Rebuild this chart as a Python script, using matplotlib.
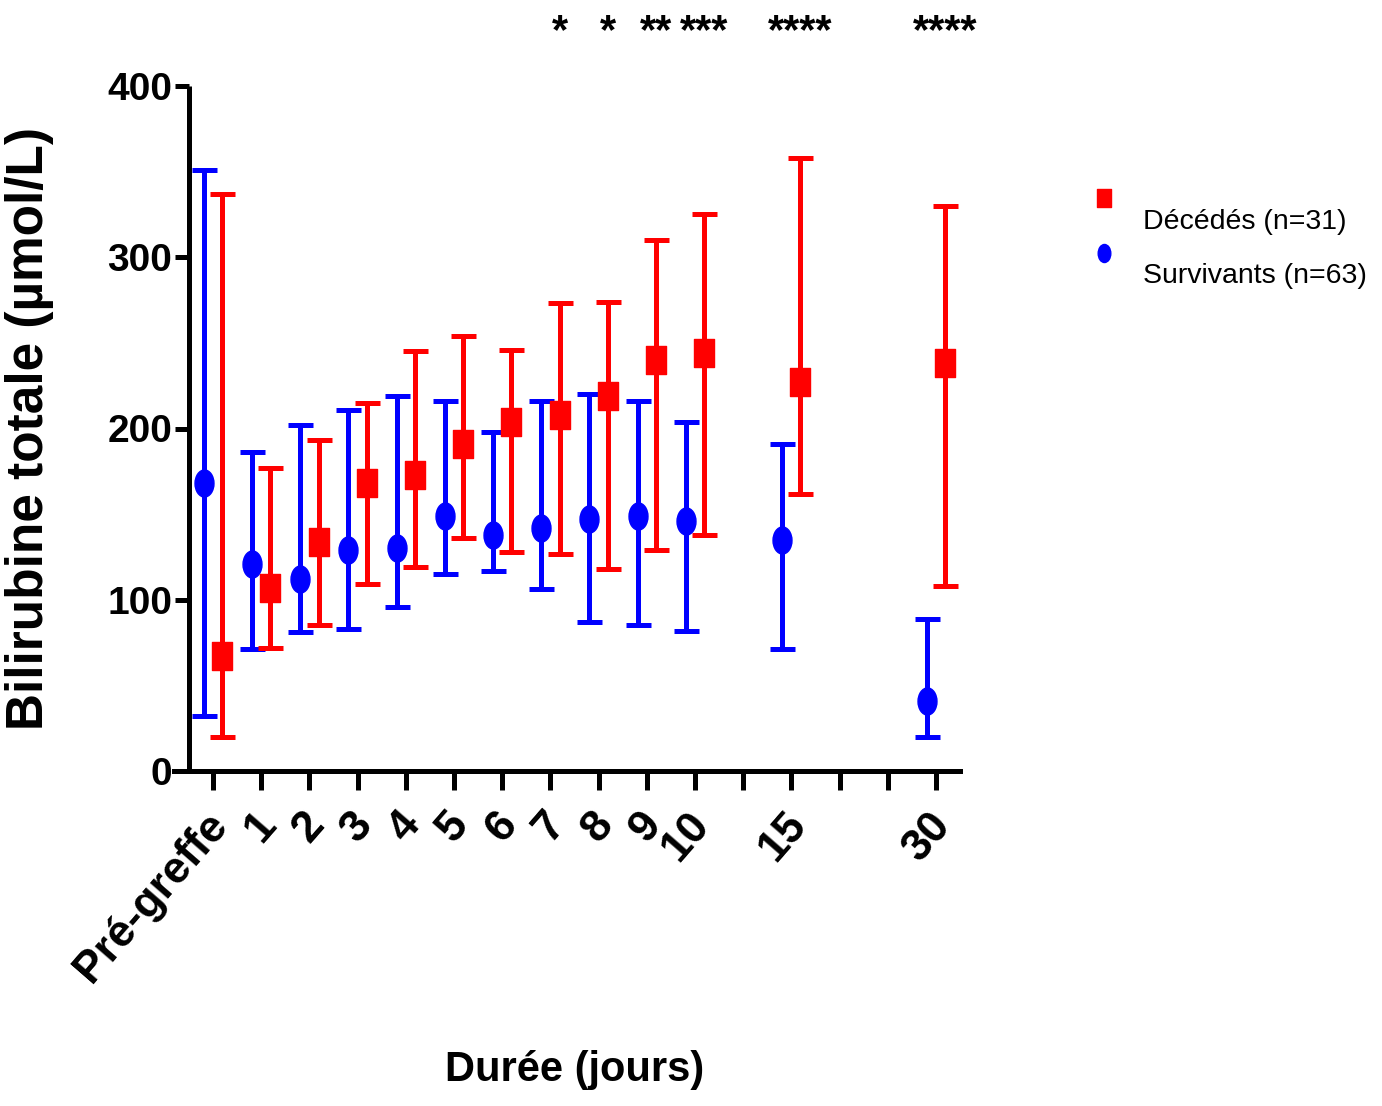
import numpy as np
import matplotlib
matplotlib.use('Agg')
import matplotlib.pyplot as plt
from matplotlib.path import Path
from matplotlib.lines import Line2D
import matplotlib.transforms as mtransforms

# day labels along the x axis (positions 0..15, some left blank)
tick_labels = ['Pré-greffe', '1', '2', '3', '4', '5', '6', '7', '8', '9', '10',
               '', '15', '', '', '30']
days_pos = [0, 1, 2, 3, 4, 5, 6, 7, 8, 9, 10, 12, 15]

# survivors (blue)
surv_mid = [168, 121, 112, 129, 130, 149, 138, 142, 147, 149, 146, 135, 41]
surv_low = [32, 71, 81, 83, 96, 115, 117, 106, 87, 85, 82, 71, 20]
surv_high = [351, 186, 202, 211, 219, 216, 198, 216, 220, 216, 204, 191, 89]

# deceased (red)
dec_mid = [67, 107, 134, 168, 173, 191, 204, 208, 219, 240, 244, 227, 238]
dec_low = [20, 72, 85, 109, 119, 136, 128, 127, 118, 129, 138, 162, 108]
dec_high = [337, 177, 193, 215, 245, 254, 246, 273, 274, 310, 325, 358, 330]

# significance stars above the deceased group
star_pos = [7, 8, 9, 10, 12, 15]
star_txt = ['*', '*', '**', '***', '****', '****']

ARIAL = ['Liberation Sans', 'DejaVu Sans']

W, H = 1382, 1106
fig = plt.figure(figsize=(W / 100, H / 100), dpi=100)
fig.patch.set_facecolor('white')

# axes box in pixels: x 174..960, y 86 (400) .. 771 (0)
ax = fig.add_axes([174 / W, (H - 771) / H, (960 - 174) / W, (771 - 86) / H])
ax.set_xlim(-0.81, 15.5)
ax.set_ylim(0, 400)

off = 0.19
lw = 3.6

# tall markers: ellipse and rectangle
circ = Path.unit_circle()
ellipse = Path(circ.vertices * np.array([0.7, 1.0]), circ.codes)
rect = Path([(-0.37, -0.5), (0.37, -0.5), (0.37, 0.5), (-0.37, 0.5), (-0.37, -0.5)],
            [Path.MOVETO, Path.LINETO, Path.LINETO, Path.LINETO, Path.CLOSEPOLY])

x_s = np.array(days_pos) - off
x_d = np.array(days_pos) + off

s_mid = np.array(surv_mid)
s_err = [s_mid - np.array(surv_low), np.array(surv_high) - s_mid]
d_mid = np.array(dec_mid)
d_err = [d_mid - np.array(dec_low), np.array(dec_high) - d_mid]

ax.errorbar(x_s, s_mid, yerr=s_err, fmt='none', ecolor='#0000ff',
            elinewidth=lw, capsize=9, capthick=lw, zorder=2)
ax.plot(x_s, s_mid, linestyle='none', marker=ellipse, markersize=19.5,
        color='#0000ff', zorder=3)
ax.errorbar(x_d, d_mid, yerr=d_err, fmt='none', ecolor='#ff0000',
            elinewidth=lw, capsize=9, capthick=lw, zorder=2)
ax.plot(x_d, d_mid, linestyle='none', marker=rect, markersize=19.5,
        color='#ff0000', zorder=3)

# axes styling
for s in ['top', 'right']:
    ax.spines[s].set_visible(False)
ax.spines['left'].set_position(('data', -0.5))
ax.spines['left'].set_linewidth(lw)
ax.spines['bottom'].set_linewidth(lw)
ax.spines['left'].set_capstyle('butt')

ax.set_yticks([0, 100, 200, 300, 400])
ax.set_xticks(range(16))
ax.set_xticklabels(tick_labels)
ax.tick_params(axis='y', length=10, width=lw, pad=2, labelsize=28)
ax.tick_params(axis='x', length=14, width=lw, pad=10, labelsize=32)
for lab in ax.get_yticklabels():
    lab.set_family(ARIAL)
    lab.set_fontweight('bold')
shift = mtransforms.ScaledTranslation(-8 / 100, 0, fig.dpi_scale_trans)
for lab in ax.get_xticklabels():
    lab.set_family(ARIAL)
    lab.set_fontweight('bold')
    lab.set_rotation(49)
    lab.set_ha('right')
    lab.set_va('top')
    lab.set_rotation_mode('anchor')
    lab.set_transform(lab.get_transform() + shift)

ax.set_ylabel('Bilirubine totale (µmol/L)', family=ARIAL, fontweight='bold',
              fontsize=37)
ax.yaxis.set_label_coords((54 - 174) / (960 - 174), 0.5)
fig.text(575 / W, 1 - 1070 / H, 'Durée (jours)', family=ARIAL, fontweight='bold',
         fontsize=30, ha='center', va='center')

# stars: x in data units, y in figure units
trans = mtransforms.blended_transform_factory(ax.transData, fig.transFigure)
for p, t in zip(star_pos, star_txt):
    ax.text(p + off, 1 - 43 / H, t, transform=trans, ha='center', va='baseline',
            fontsize=30, family=ARIAL, fontweight='bold', clip_on=False)

# legend
fig.add_artist(Line2D([1104 / W], [1 - 198 / H], transform=fig.transFigure,
                      marker=rect, markersize=13, color='#ff0000', linestyle='none'))
fig.add_artist(Line2D([1104 / W], [1 - 253 / H], transform=fig.transFigure,
                      marker=ellipse, markersize=13, color='#0000ff', linestyle='none'))
fig.text(1143 / W, 1 - 222 / H, 'Décédés (n=31)', family=ARIAL, fontsize=20.5,
         ha='left', va='center')
fig.text(1143 / W, 1 - 276 / H, 'Survivants (n=63)', family=ARIAL, fontsize=20.5,
         ha='left', va='center')

fig.savefig('out.png', dpi=100, facecolor='white')
